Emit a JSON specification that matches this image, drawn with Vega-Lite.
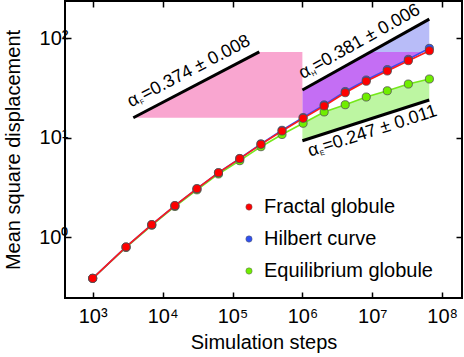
{
  "$schema": "https://vega.github.io/schema/vega-lite/v6.json",
  "width": 397,
  "height": 297,
  "autosize": "none",
  "padding": {"left": 65, "top": 1, "right": 2, "bottom": 59},
  "background": "white",
  "config": {
    "font": "Liberation Sans",
    "view": {"stroke": "black", "strokeWidth": 2},
    "axis": {"grid": false, "domain": false, "tickColor": "black", "tickWidth": 1.5, "tickSize": -6, "labelFontSize": 20, "labelColor": "black", "labelFont": "Liberation Sans", "titleFontSize": 20, "titleFontWeight": "normal", "titleColor": "black", "titleFont": "Liberation Sans", "zindex": 1}
  },
  "datasets": {
    "blueR": [
      {"x": 1000000, "top": 30.2, "bottom": 15.5},
      {"x": 2047000, "top": 40.0, "bottom": 20.9},
      {"x": 4095000, "top": 52.5, "bottom": 28.4},
      {"x": 8191000, "top": 69.0, "bottom": 37.5},
      {"x": 16383000, "top": 90.6, "bottom": 47.5},
      {"x": 32767000, "top": 118.9, "bottom": 61.5},
      {"x": 65300000, "top": 156, "bottom": 79.3}
    ],
    "purple": [
      {"x": 1000000, "top": 30.2, "bottom": 15.5},
      {"x": 2047000, "top": 40.0, "bottom": 20.9},
      {"x": 4095000, "top": 52.5, "bottom": 28.4},
      {"x": 8191000, "top": 69.0, "bottom": 37.5},
      {"x": 9440000, "top": 73, "bottom": 39.4},
      {"x": 16383000, "top": 73, "bottom": 47.5},
      {"x": 32767000, "top": 73, "bottom": 61.5},
      {"x": 52400000, "top": 73, "bottom": 73}
    ],
    "pink": [
      {"x": 3811, "top": 15.9, "bottom": 15.9},
      {"x": 241600, "top": 73, "bottom": 15.9},
      {"x": 1000000, "top": 73, "bottom": 15.9}
    ],
    "greenR": [
      {"x": 1000000, "top": 14.0, "bottom": 9.35},
      {"x": 2047000, "top": 18.2, "bottom": 11.0},
      {"x": 4095000, "top": 21.5, "bottom": 12.85},
      {"x": 8191000, "top": 25.7, "bottom": 15.0},
      {"x": 16383000, "top": 29.7, "bottom": 17.6},
      {"x": 32767000, "top": 34.7, "bottom": 20.5},
      {"x": 65300000, "top": 39.0, "bottom": 24.0}
    ],
    "slopes": [
      {"x": 3811, "y": 15.9, "x2": 241600, "y2": 73},
      {"x": 1000000, "y": 30.2, "x2": 65300000, "y2": 156},
      {"x": 1000000, "y": 9.35, "x2": 65300000, "y2": 24.0}
    ],
    "curves": [
      {"s": "Equilibrium globule", "x": 1000, "y": 0.387},
      {"s": "Equilibrium globule", "x": 3000, "y": 0.79},
      {"s": "Equilibrium globule", "x": 7000, "y": 1.32},
      {"s": "Equilibrium globule", "x": 15000, "y": 2.04},
      {"s": "Equilibrium globule", "x": 31000, "y": 3.0},
      {"s": "Equilibrium globule", "x": 63000, "y": 4.33},
      {"s": "Equilibrium globule", "x": 127000, "y": 5.89},
      {"s": "Equilibrium globule", "x": 255000, "y": 8.14},
      {"s": "Equilibrium globule", "x": 511000, "y": 10.8},
      {"s": "Equilibrium globule", "x": 1023000, "y": 14.0},
      {"s": "Equilibrium globule", "x": 2047000, "y": 18.2},
      {"s": "Equilibrium globule", "x": 4095000, "y": 21.5},
      {"s": "Equilibrium globule", "x": 8191000, "y": 25.7},
      {"s": "Equilibrium globule", "x": 16383000, "y": 29.7},
      {"s": "Equilibrium globule", "x": 32767000, "y": 34.7},
      {"s": "Equilibrium globule", "x": 65535000, "y": 39.0},
      {"s": "Hilbert curve", "x": 1000, "y": 0.387},
      {"s": "Hilbert curve", "x": 3000, "y": 0.80},
      {"s": "Hilbert curve", "x": 7000, "y": 1.34},
      {"s": "Hilbert curve", "x": 15000, "y": 2.08},
      {"s": "Hilbert curve", "x": 31000, "y": 3.08},
      {"s": "Hilbert curve", "x": 63000, "y": 4.46},
      {"s": "Hilbert curve", "x": 127000, "y": 6.2},
      {"s": "Hilbert curve", "x": 255000, "y": 8.7},
      {"s": "Hilbert curve", "x": 511000, "y": 11.9},
      {"s": "Hilbert curve", "x": 1023000, "y": 16.0},
      {"s": "Hilbert curve", "x": 2047000, "y": 21.4},
      {"s": "Hilbert curve", "x": 4095000, "y": 29.2},
      {"s": "Hilbert curve", "x": 8191000, "y": 38.1},
      {"s": "Hilbert curve", "x": 16383000, "y": 48.5},
      {"s": "Hilbert curve", "x": 32767000, "y": 61.5},
      {"s": "Hilbert curve", "x": 65535000, "y": 79.3},
      {"s": "Fractal globule", "x": 1000, "y": 0.387},
      {"s": "Fractal globule", "x": 3000, "y": 0.80},
      {"s": "Fractal globule", "x": 7000, "y": 1.34},
      {"s": "Fractal globule", "x": 15000, "y": 2.08},
      {"s": "Fractal globule", "x": 31000, "y": 3.08},
      {"s": "Fractal globule", "x": 63000, "y": 4.46},
      {"s": "Fractal globule", "x": 127000, "y": 6.17},
      {"s": "Fractal globule", "x": 255000, "y": 8.6},
      {"s": "Fractal globule", "x": 511000, "y": 11.7},
      {"s": "Fractal globule", "x": 1023000, "y": 15.7},
      {"s": "Fractal globule", "x": 2047000, "y": 20.9},
      {"s": "Fractal globule", "x": 4095000, "y": 28.4},
      {"s": "Fractal globule", "x": 8191000, "y": 37.0},
      {"s": "Fractal globule", "x": 16383000, "y": 46.9},
      {"s": "Fractal globule", "x": 32767000, "y": 59.6},
      {"s": "Fractal globule", "x": 65535000, "y": 75.0}
    ],
    "labF": [{"x": 3532, "y": 20.2, "t": "α =0.374 ± 0.008", "sub": "F"}],
    "labH": [{"x": 1010000, "y": 38.7, "t": "α =0.381 ± 0.006", "sub": "H"}],
    "labE": [{"x": 1285000, "y": 6.46, "t": "α =0.247 ± 0.011", "sub": "E"}]
  },
  "layer": [
    {
      "data": {"name": "blueR"},
      "mark": {"type": "area", "color": "#b8bcf8", "opacity": 1},
      "encoding": {
        "x": {"field": "x", "type": "quantitative", "scale": {"type": "log", "domain": [401.6, 191900000], "nice": false}, "axis": {"orient": "bottom", "values": [1000, 10000, 100000, 1000000, 10000000, 100000000], "labelExpr": "'10' + ['⁰','¹','²','³','⁴','⁵','⁶','⁷','⁸'][round(log(datum.value)/LN10)]", "labelPadding": 14, "title": "Simulation steps", "titlePadding": 6}},
        "y": {"field": "top", "type": "quantitative", "scale": {"type": "log", "domain": [0.2455, 237.1], "nice": false}, "axis": {"orient": "left", "values": [1, 10, 100], "labelExpr": "'10' + ['⁰','¹','²'][round(log(datum.value)/LN10)]", "labelPadding": 3, "title": "Mean square displacement", "titlePadding": 15}},
        "y2": {"field": "bottom"}
      }
    },
    {
      "data": {"name": "purple"},
      "mark": {"type": "area", "color": "#c46ef4", "opacity": 1},
      "encoding": {
        "x": {"field": "x", "type": "quantitative", "scale": {"type": "log", "domain": [401.6, 191900000], "nice": false}, "axis": null},
        "y": {"field": "top", "type": "quantitative", "scale": {"type": "log", "domain": [0.2455, 237.1], "nice": false}, "axis": null},
        "y2": {"field": "bottom"}
      }
    },
    {
      "data": {"name": "pink"},
      "mark": {"type": "area", "color": "#f9a6d0", "opacity": 1},
      "encoding": {
        "x": {"field": "x", "type": "quantitative", "scale": {"type": "log", "domain": [401.6, 191900000], "nice": false}, "axis": null},
        "y": {"field": "top", "type": "quantitative", "scale": {"type": "log", "domain": [0.2455, 237.1], "nice": false}, "axis": null},
        "y2": {"field": "bottom"}
      }
    },
    {
      "data": {"name": "greenR"},
      "mark": {"type": "area", "color": "#bdf6a2", "opacity": 1},
      "encoding": {
        "x": {"field": "x", "type": "quantitative", "scale": {"type": "log", "domain": [401.6, 191900000], "nice": false}, "axis": {"orient": "top", "values": [1000, 10000, 100000, 1000000, 10000000, 100000000], "labels": false, "title": null}},
        "y": {"field": "top", "type": "quantitative", "scale": {"type": "log", "domain": [0.2455, 237.1], "nice": false}, "axis": {"orient": "right", "values": [1, 10, 100], "labels": false, "title": null}},
        "y2": {"field": "bottom"}
      }
    },
    {
      "data": {"name": "slopes"},
      "mark": {"type": "rule", "color": "black", "strokeWidth": 3},
      "encoding": {
        "x": {"field": "x", "type": "quantitative", "scale": {"type": "log", "domain": [401.6, 191900000], "nice": false}, "axis": null},
        "y": {"field": "y", "type": "quantitative", "scale": {"type": "log", "domain": [0.2455, 237.1], "nice": false}, "axis": null},
        "x2": {"field": "x2"},
        "y2": {"field": "y2"}
      }
    },
    {
      "data": {"name": "curves"},
      "transform": [{"filter": "datum.s == 'Equilibrium globule'"}],
      "mark": {"type": "line", "strokeWidth": 1.6, "color": "#74e81a"},
      "encoding": {
        "x": {"field": "x", "type": "quantitative", "scale": {"type": "log", "domain": [401.6, 191900000], "nice": false}, "axis": null},
        "y": {"field": "y", "type": "quantitative", "scale": {"type": "log", "domain": [0.2455, 237.1], "nice": false}, "axis": null}
      }
    },
    {
      "data": {"name": "curves"},
      "transform": [{"filter": "datum.s == 'Hilbert curve'"}],
      "mark": {"type": "line", "strokeWidth": 1.6, "color": "#3a4cf0"},
      "encoding": {
        "x": {"field": "x", "type": "quantitative", "scale": {"type": "log", "domain": [401.6, 191900000], "nice": false}, "axis": null},
        "y": {"field": "y", "type": "quantitative", "scale": {"type": "log", "domain": [0.2455, 237.1], "nice": false}, "axis": null}
      }
    },
    {
      "data": {"name": "curves"},
      "transform": [{"filter": "datum.s == 'Fractal globule'"}],
      "mark": {"type": "line", "strokeWidth": 1.6, "color": "#ff1a1a"},
      "encoding": {
        "x": {"field": "x", "type": "quantitative", "scale": {"type": "log", "domain": [401.6, 191900000], "nice": false}, "axis": null},
        "y": {"field": "y", "type": "quantitative", "scale": {"type": "log", "domain": [0.2455, 237.1], "nice": false}, "axis": null}
      }
    },
    {
      "data": {"name": "curves"},
      "mark": {"type": "point", "filled": true, "size": 66, "opacity": 1, "stroke": "#505050", "strokeWidth": 0.8},
      "encoding": {
        "x": {"field": "x", "type": "quantitative", "scale": {"type": "log", "domain": [401.6, 191900000], "nice": false}, "axis": null},
        "y": {"field": "y", "type": "quantitative", "scale": {"type": "log", "domain": [0.2455, 237.1], "nice": false}, "axis": null},
        "color": {"field": "s", "type": "nominal", "scale": {"domain": ["Fractal globule", "Hilbert curve", "Equilibrium globule"], "range": ["#ff0000", "#2f50f0", "#70ee00"]},
          "legend": {"title": null, "orient": "none", "legendX": 174, "legendY": 196, "labelFontSize": 20, "labelFont": "Liberation Sans", "labelColor": "black", "labelLimit": 400, "symbolType": "circle", "symbolSize": 40, "symbolStrokeColor": "#606060", "symbolStrokeWidth": 0.5, "rowPadding": 12, "labelOffset": 5}}
      }
    },
    {
      "data": {"name": "labF"},
      "layer": [
        {"mark": {"type": "text", "font": "Liberation Sans", "fontSize": 18, "align": "left", "baseline": "alphabetic", "angle": -27.6, "color": "black"},
         "encoding": {"text": {"field": "t"}}},
        {"mark": {"type": "text", "font": "Liberation Sans", "fontSize": 7, "align": "left", "baseline": "alphabetic", "angle": -27.6, "dx": 10.5, "dy": 2.5, "color": "black"},
         "encoding": {"text": {"field": "sub"}}}
      ],
      "encoding": {
        "x": {"field": "x", "type": "quantitative", "scale": {"type": "log", "domain": [401.6, 191900000], "nice": false}, "axis": null},
        "y": {"field": "y", "type": "quantitative", "scale": {"type": "log", "domain": [0.2455, 237.1], "nice": false}, "axis": null}
      }
    },
    {
      "data": {"name": "labH"},
      "layer": [
        {"mark": {"type": "text", "font": "Liberation Sans", "fontSize": 18, "align": "left", "baseline": "alphabetic", "angle": -29.2, "color": "black"},
         "encoding": {"text": {"field": "t"}}},
        {"mark": {"type": "text", "font": "Liberation Sans", "fontSize": 7, "align": "left", "baseline": "alphabetic", "angle": -29.2, "dx": 10.5, "dy": 2.5, "color": "black"},
         "encoding": {"text": {"field": "sub"}}}
      ],
      "encoding": {
        "x": {"field": "x", "type": "quantitative", "scale": {"type": "log", "domain": [401.6, 191900000], "nice": false}, "axis": null},
        "y": {"field": "y", "type": "quantitative", "scale": {"type": "log", "domain": [0.2455, 237.1], "nice": false}, "axis": null}
      }
    },
    {
      "data": {"name": "labE"},
      "layer": [
        {"mark": {"type": "text", "font": "Liberation Sans", "fontSize": 18, "align": "left", "baseline": "alphabetic", "angle": -17.8, "color": "black"},
         "encoding": {"text": {"field": "t"}}},
        {"mark": {"type": "text", "font": "Liberation Sans", "fontSize": 7, "align": "left", "baseline": "alphabetic", "angle": -17.8, "dx": 10.5, "dy": 2.5, "color": "black"},
         "encoding": {"text": {"field": "sub"}}}
      ],
      "encoding": {
        "x": {"field": "x", "type": "quantitative", "scale": {"type": "log", "domain": [401.6, 191900000], "nice": false}, "axis": null},
        "y": {"field": "y", "type": "quantitative", "scale": {"type": "log", "domain": [0.2455, 237.1], "nice": false}, "axis": null}
      }
    }
  ]
}
